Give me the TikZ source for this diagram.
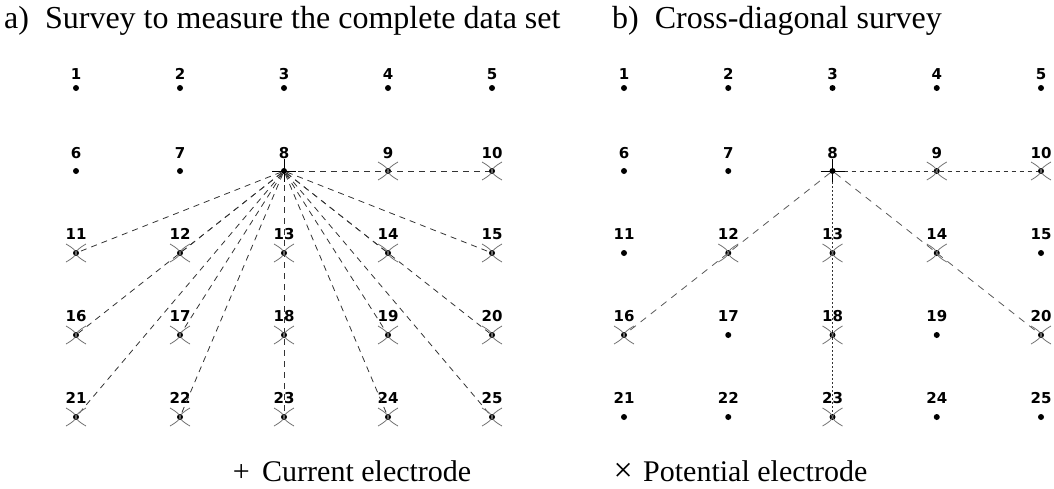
\documentclass[tikz,border=0pt]{standalone}
\usepackage{fontspec}
\setmainfont{Liberation Serif}
\newfontfamily\numfont{DejaVu Sans}
\usetikzlibrary{positioning}

\tikzset{
  electrode/.style={circle, fill=black, inner sep=0pt, minimum size=6pt},
  num/.style={font=\numfont\bfseries\fontsize{15}{15}\selectfont, inner sep=0pt},
  title/.style={font=\fontsize{32}{36}\selectfont, inner sep=0pt, anchor=base west},
  legend/.style={font=\fontsize{30}{34}\selectfont, inner sep=0pt},
  probe/.style={black!80, line width=0.8pt, dash pattern=on 6pt off 5pt},
  pics/potx/.style={code={\draw[black!55, line width=0.8pt]
      (-10,-9) .. controls (3,-1.5) and (3,1.5) .. (-10,9)
      (10,-9) .. controls (-3,-1.5) and (-3,1.5) .. (10,9);}},
  pics/curplus/.style={code={\draw[black, line width=1pt] (-12,0) -- (12,0) (0,-12) -- (0,11);}}
}

\begin{document}
\begin{tikzpicture}[x=1pt, y=-1pt]
\useasboundingbox (0,0) rectangle (1054,488);
\node[title] (ta) at (4,28) {a)~ Survey to measure the complete data set};
\node[title] (tb) at (612,28) {b)~ Cross-diagonal survey};
%
\foreach \r/\y/\ly in {0/88/74,1/171/153,2/253/234,3/335/316,4/417/398}
  \foreach \c in {0,...,4}{
    \pgfmathtruncatemacro{\n}{5*\r+\c+1}
    \node[electrode] (a\n) at (76+104*\c,\y) {};
    \node[num] (la\n) at (76+104*\c,\ly) {\n};
    \node[electrode] (b\n) at (624+104.25*\c,\y) {};
    \node[num] (lb\n) at (624+104.25*\c,\ly) {\n};
  }
%
% a) every potential electrode against 8
\foreach \k in {10,11,...,25}
  \draw[probe] (a8) -- (a\k);
\foreach \k in {9,...,25}
  \pic at (a\k) {potx};
\pic at (a8) {curplus};
%
% b) cross-diagonal
\draw[probe, dash pattern=on 4pt off 4pt] (b8) -- (b10);
\draw[probe, black!65, dash pattern=on 7pt off 6pt] (b8) -- (b16);
\draw[probe, black!65, dash pattern=on 7pt off 6pt] (b8) -- (b20);
\draw[probe, dash pattern=on 2pt off 2pt] (b8) -- (b23);
\foreach \k in {9,10,12,13,14,16,18,20,23}
  \pic at (b\k) {potx};
\pic at (b8) {curplus};
%
\node[legend, anchor=base west] (curtext) at (262,481) {Current electrode};
\node[legend, anchor=base east] (cursym) at ([xshift=-12pt]curtext.base west) {+};
\node[legend, anchor=base west] (pottext) at (643,481) {Potential electrode};
\node[legend, anchor=base east, font=\fontsize{34}{34}\selectfont] (potsym) at ([xshift=-10pt]pottext.base west) {×};
\end{tikzpicture}
\end{document}
